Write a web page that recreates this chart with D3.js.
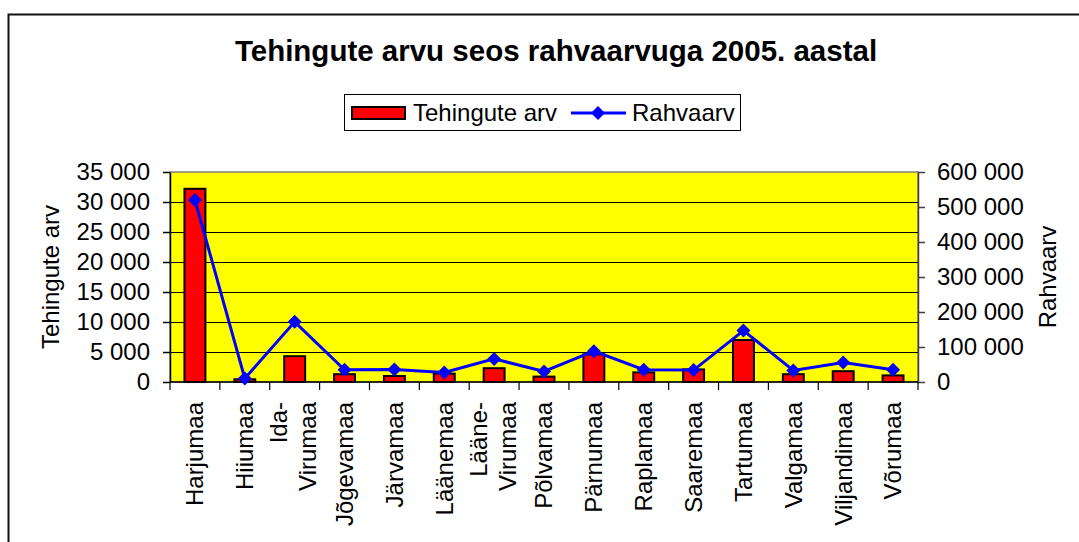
<!DOCTYPE html>
<html>
<head>
<meta charset="utf-8">
<script src="https://cdn.jsdelivr.net/npm/d3@7"></script>
<style>
  body { margin: 0; background: #fff; }
  svg { display: block; font-family: "Liberation Sans", Arial, sans-serif; }
</style>
</head>
<body>
<svg id="chart" width="1079" height="542"></svg>
<script>
// maakonnad
const categories = ['Harjumaa', 'Hiiumaa', 'Ida-Virumaa', 'Jõgevamaa', 'Järvamaa', 'Läänemaa',
  'Lääne-Virumaa', 'Põlvamaa', 'Pärnumaa', 'Raplamaa', 'Saaremaa', 'Tartumaa',
  'Valgamaa', 'Viljandimaa', 'Võrumaa']
const tehingud = [32200, 450, 4300, 1300, 1000, 1400, 2300, 900, 4600, 1600, 2100, 7000, 1300, 1800, 1100]
const rahvaarv = [520000, 10000, 172000, 35000, 36000, 27000, 66000, 30000, 88000, 35000, 34000, 147000, 33000, 56000, 35000]
const leftTicks = [0, 5000, 10000, 15000, 20000, 25000, 30000, 35000]
const rightTicks = [0, 100000, 200000, 300000, 400000, 500000, 600000]

const svg = d3.select('#chart')
const fs = 24

const plot = { left: 170, right: 918, top: 172, bottom: 382 }

const fmt = d3.formatLocale({ decimal: ',', thousands: ' ', grouping: [3], currency: ['', ''] }).format(',d')

// outer frame
svg.append('rect')
  .attr('x', 8.5).attr('y', 14.5)
  .attr('width', 1200).attr('height', 800)
  .attr('fill', 'none').attr('stroke', '#111').attr('stroke-width', 2)

// title
svg.append('text')
  .attr('x', 556).attr('y', 61)
  .attr('text-anchor', 'middle')
  .style('font-size', '29.5px').style('font-weight', 'bold')
  .text('Tehingute arvu seos rahvaarvuga 2005. aastal')

const x = d3.scaleBand().domain(categories).range([plot.left, plot.right]).padding(0)
const yL = d3.scaleLinear().domain([0, 35000]).range([plot.bottom, plot.top])
const yR = d3.scaleLinear().domain([0, 600000]).range([plot.bottom, plot.top])

// plot area
svg.append('rect')
  .attr('x', plot.left).attr('y', plot.top)
  .attr('width', plot.right - plot.left).attr('height', plot.bottom - plot.top)
  .attr('fill', '#ffff00').attr('stroke', '#808080').attr('stroke-width', 1.5)

// gridlines
svg.append('g').selectAll('line')
  .data(leftTicks.filter(d => d > 0 && d < 35000))
  .enter().append('line')
  .attr('x1', plot.left).attr('x2', plot.right)
  .attr('y1', d => Math.round(yL(d)) + 0.5).attr('y2', d => Math.round(yL(d)) + 0.5)
  .attr('stroke', '#000').attr('stroke-width', 1)

// bars
const bw = x.bandwidth() * 0.42
svg.append('g').selectAll('rect')
  .data(tehingud)
  .enter().append('rect')
  .attr('x', (d, i) => x(categories[i]) + x.bandwidth() / 2 - bw / 2)
  .attr('y', d => yL(d))
  .attr('width', bw)
  .attr('height', d => plot.bottom - yL(d))
  .attr('fill', '#ff0000').attr('stroke', '#000').attr('stroke-width', 2)

// left axis
const axL = svg.append('g')
  .attr('transform', 'translate(' + plot.left + ',0)')
  .call(d3.axisLeft(yL).tickValues(leftTicks).tickFormat(fmt).tickSizeInner(7).tickSizeOuter(0).tickPadding(13))
axL.selectAll('text').style('font-size', fs + 'px').attr('fill', '#000').style('font-family', 'Liberation Sans, Arial, sans-serif')
axL.selectAll('line, path').attr('stroke', '#000').attr('stroke-width', 1.5)

// right axis
const axR = svg.append('g')
  .attr('transform', 'translate(' + plot.right + ',0)')
  .call(d3.axisRight(yR).tickValues(rightTicks).tickFormat(fmt).tickSizeInner(7).tickSizeOuter(0).tickPadding(12))
axR.selectAll('text').style('font-size', fs + 'px').attr('fill', '#000').style('font-family', 'Liberation Sans, Arial, sans-serif')
axR.selectAll('line, path').attr('stroke', '#404040').attr('stroke-width', 1.5)

// bottom axis line + category boundary ticks
svg.append('line')
  .attr('x1', plot.left).attr('x2', plot.right)
  .attr('y1', plot.bottom).attr('y2', plot.bottom)
  .attr('stroke', '#000').attr('stroke-width', 1.5)
const bounds = categories.map(c => x(c)).concat([plot.right])
svg.append('g').selectAll('line')
  .data(bounds)
  .enter().append('line')
  .attr('x1', d => d).attr('x2', d => d)
  .attr('y1', plot.bottom).attr('y2', plot.bottom + 8)
  .attr('stroke', '#000').attr('stroke-width', 1.2)

// category labels (rotated)
const catG = svg.append('g').selectAll('text')
  .data(categories)
  .enter().append('text')
  .attr('transform', d => 'translate(' + (x(d) + x.bandwidth() / 2) + ',402) rotate(-90)')
  .attr('text-anchor', 'end')
  .style('font-size', fs + 'px')
catG.each(function (d) {
  const parts = d.indexOf('-') > 0 ? [d.slice(0, d.indexOf('-') + 1), d.slice(d.indexOf('-') + 1)] : [d]
  const t = d3.select(this)
  parts.forEach((p, i) => {
    t.append('tspan')
      .attr('x', 0)
      .attr('dy', parts.length === 1 ? '0.35em' : (i === 0 ? '-0.3em' : '1.2em'))
      .text(p)
  })
})

// population line
const line = d3.line()
  .x((d, i) => x(categories[i]) + x.bandwidth() / 2)
  .y(d => yR(d))
svg.append('path')
  .datum(rahvaarv)
  .attr('d', line)
  .attr('fill', 'none').attr('stroke', '#0000ff').attr('stroke-width', 3)

const diamond = d3.symbol().type(d3.symbolSquare).size(98)
svg.append('g').selectAll('path')
  .data(rahvaarv)
  .enter().append('path')
  .attr('d', diamond)
  .attr('transform', (d, i) => 'translate(' + (x(categories[i]) + x.bandwidth() / 2) + ',' + yR(d) + ') rotate(45)')
  .attr('fill', '#0000ff')

// axis titles
svg.append('text')
  .attr('transform', 'translate(59,277) rotate(-90)')
  .attr('text-anchor', 'middle')
  .style('font-size', fs + 'px')
  .text('Tehingute arv')
svg.append('text')
  .attr('transform', 'translate(1056,277) rotate(-90)')
  .attr('text-anchor', 'middle')
  .style('font-size', fs + 'px')
  .text('Rahvaarv')

// legend
const lg = svg.append('g')
lg.append('rect')
  .attr('x', 344.5).attr('y', 94.5).attr('width', 396).attr('height', 36)
  .attr('fill', '#fff').attr('stroke', '#000').attr('stroke-width', 1)
lg.append('rect')
  .attr('x', 352).attr('y', 107).attr('width', 53).attr('height', 12)
  .attr('fill', '#ff0000').attr('stroke', '#000').attr('stroke-width', 2)
lg.append('text')
  .attr('x', 413).attr('y', 121)
  .style('font-size', fs + 'px')
  .text('Tehingute arv')
lg.append('line')
  .attr('x1', 571).attr('x2', 626).attr('y1', 113).attr('y2', 113)
  .attr('stroke', '#0000ff').attr('stroke-width', 3)
lg.append('path')
  .attr('d', diamond)
  .attr('transform', 'translate(598,113) rotate(45)')
  .attr('fill', '#0000ff')
lg.append('text')
  .attr('x', 632).attr('y', 121)
  .style('font-size', fs + 'px')
  .text('Rahvaarv')
</script>
</body>
</html>
